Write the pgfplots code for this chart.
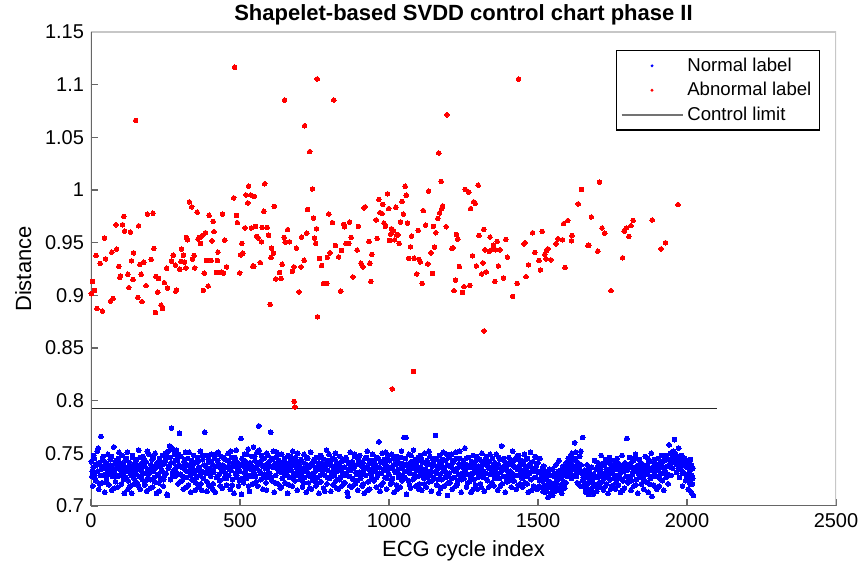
\documentclass[border=0pt]{standalone}
\usepackage{pgfplots}
\pgfplotsset{compat=1.18}
\usepackage{fontspec}
\setmainfont{Liberation Sans}
\usetikzlibrary{calc}
\begin{document}
\begin{tikzpicture}
\begin{axis}[
 width=372.5pt, height=237pt, scale only axis,
 xmin=0, xmax=2500, ymin=0.7, ymax=1.15,
 xtick={0,500,1000,1500,2000,2500}, xticklabels={0,500,1000,1500,2000,2500},
 ytick={0.7,0.75,0.8,0.85,0.9,0.95,1,1.05,1.1,1.15},
 yticklabels={0.7,0.75,0.8,0.85,0.9,0.95,1,1.05,1.1,1.15},
 tick align=inside, xtick pos=bottom, ytick pos=left,
 major tick length=3.5pt,
 tick style={black!60, line width=0.6pt},
 axis line style={draw=none},
 ticklabel style={font=\fontsize{10}{12}\selectfont},
 /pgf/number format/assume math mode=true,
 xlabel={ECG cycle index}, ylabel={Distance},
 label style={font=\fontsize{11}{13}\selectfont},
 title={Shapelet-based SVDD control chart phase II},
 title style={font=\bfseries\fontsize{11}{13}\selectfont, yshift=-6pt},
 legend cell align=left,
 legend style={at={(1,1)}, anchor=north east, xshift=-8pt, yshift=-9pt,
   draw=black, line width=0.6pt, inner xsep=2pt, inner ysep=1.5pt,
   font=\fontsize{9.3}{11}\selectfont, row sep=0pt,
   /tikz/every even column/.append style={column sep=2pt}},
]
\coordinate (BL) at (rel axis cs:0,0);
\coordinate (TR) at (rel axis cs:1,1);
\addplot[only marks, mark=*, mark size=1.2pt, color=blue, mark options={line width=0pt},
 legend image code/.code={\path[draw=none,fill=none] (0pt,0pt) -- (30.5pt,0pt); \fill[blue,draw=none] (15.25pt,0pt) circle (0.8pt);}]
coordinates {
(1,0.742) (3,0.728) (6,0.719) (8,0.737) (11,0.745) (13,0.731) (16,0.724) (18,0.739) (21,0.752) (23,0.733) (26,0.716) (28,0.741) (31,0.729) (33,0.766) (36,0.735) (38,0.722) (41,0.747) (43,0.738) (46,0.713) (48,0.730)
(50,0.741) (52,0.726) (55,0.735) (57,0.749) (60,0.720) (62,0.732) (65,0.744) (67,0.737) (70,0.715) (72,0.728) (75,0.739) (77,0.756) (80,0.731) (82,0.723) (85,0.742) (87,0.736) (90,0.718) (92,0.745) (95,0.729) (97,0.740)
(100,0.734) (102,0.721) (105,0.748) (107,0.730) (110,0.738) (112,0.712) (115,0.743) (117,0.727) (120,0.736) (122,0.751) (125,0.724) (127,0.733) (130,0.741) (132,0.719) (135,0.729) (137,0.712) (140,0.746) (142,0.735) (145,0.726) (147,0.739)
(150,0.731) (152,0.744) (155,0.722) (157,0.737) (160,0.753) (162,0.728) (165,0.716) (167,0.740) (170,0.733) (172,0.725) (175,0.747) (177,0.738) (180,0.720) (182,0.731) (185,0.742) (187,0.714) (190,0.735) (192,0.727) (195,0.749) (197,0.732)
(200,0.725) (202,0.739) (205,0.744) (207,0.718) (210,0.733) (212,0.727) (215,0.750) (217,0.736) (220,0.712) (222,0.741) (225,0.730) (227,0.722) (230,0.745) (232,0.737) (235,0.726) (237,0.734) (240,0.748) (242,0.719) (245,0.740) (247,0.729)
(250,0.743) (252,0.731) (255,0.711) (257,0.710) (260,0.752) (262,0.738) (265,0.746) (267,0.725) (270,0.774) (272,0.755) (275,0.733) (277,0.741) (280,0.749) (282,0.728) (285,0.736) (287,0.753) (290,0.744) (292,0.721) (295,0.739) (297,0.769)
(300,0.730) (302,0.747) (305,0.724) (307,0.738) (310,0.716) (312,0.742) (315,0.735) (317,0.751) (320,0.727) (322,0.733) (325,0.745) (327,0.720) (330,0.739) (332,0.729) (335,0.713) (337,0.743) (340,0.736) (342,0.725) (345,0.748) (347,0.731)
(350,0.741) (352,0.722) (355,0.734) (357,0.746) (360,0.718) (362,0.737) (365,0.729) (367,0.752) (370,0.733) (372,0.715) (375,0.744) (377,0.726) (380,0.739) (382,0.770) (385,0.731) (387,0.748) (390,0.723) (392,0.736) (395,0.742) (397,0.719)
(400,0.735) (402,0.728) (405,0.749) (407,0.740) (410,0.721) (412,0.732) (415,0.745) (417,0.713) (420,0.738) (422,0.727) (425,0.743) (427,0.751) (430,0.730) (432,0.724) (435,0.736) (437,0.747) (440,0.717) (442,0.739) (445,0.733) (447,0.726)
(450,0.744) (452,0.731) (455,0.720) (457,0.737) (460,0.750) (462,0.729) (465,0.741) (467,0.716) (470,0.734) (472,0.746) (475,0.725) (477,0.738) (480,0.712) (482,0.742) (485,0.731) (487,0.753) (490,0.727) (492,0.736) (495,0.719) (497,0.740)
(500,0.733) (503,0.764) (505,0.711) (507,0.745) (510,0.738) (512,0.722) (515,0.749) (517,0.731) (520,0.742) (522,0.726) (525,0.737) (527,0.754) (530,0.729) (532,0.714) (535,0.740) (537,0.735) (540,0.747) (542,0.721) (545,0.756) (547,0.732)
(550,0.743) (552,0.728) (555,0.736) (557,0.751) (560,0.719) (563,0.776) (565,0.741) (567,0.733) (570,0.725) (572,0.748) (575,0.738) (577,0.716) (580,0.745) (582,0.730) (585,0.739) (587,0.722) (590,0.750) (592,0.735) (595,0.727) (597,0.742)
(600,0.731) (603,0.770) (605,0.744) (607,0.724) (610,0.737) (612,0.752) (615,0.713) (617,0.740) (620,0.729) (622,0.746) (625,0.735) (627,0.721) (630,0.743) (632,0.738) (635,0.717) (637,0.732) (640,0.749) (642,0.726) (645,0.741) (647,0.734)
(650,0.745) (652,0.722) (655,0.737) (657,0.730) (660,0.712) (662,0.748) (665,0.739) (667,0.727) (670,0.743) (672,0.734) (675,0.719) (677,0.752) (680,0.731) (682,0.740) (685,0.724) (687,0.746) (690,0.736) (692,0.715) (695,0.742) (697,0.729)
(700,0.738) (702,0.725) (705,0.744) (707,0.731) (710,0.718) (712,0.736) (715,0.749) (717,0.727) (720,0.740) (722,0.713) (725,0.733) (727,0.745) (730,0.722) (732,0.737) (735,0.728) (737,0.751) (740,0.716) (742,0.739) (745,0.731) (747,0.724)
(750,0.742) (752,0.733) (755,0.719) (757,0.746) (760,0.727) (762,0.738) (765,0.712) (767,0.735) (770,0.748) (772,0.723) (775,0.740) (777,0.731) (780,0.717) (782,0.744) (785,0.729) (787,0.736) (790,0.753) (792,0.721) (795,0.734) (797,0.743)
(800,0.726) (802,0.739) (805,0.714) (807,0.732) (810,0.745) (812,0.720) (815,0.737) (817,0.729) (820,0.750) (822,0.724) (825,0.741) (827,0.733) (830,0.716) (832,0.738) (835,0.747) (837,0.727) (840,0.735) (842,0.719) (845,0.743) (847,0.730)
(850,0.737) (852,0.722) (855,0.746) (857,0.731) (860,0.713) (862,0.709) (865,0.740) (867,0.728) (870,0.751) (872,0.734) (875,0.718) (877,0.742) (880,0.725) (882,0.736) (885,0.747) (887,0.721) (890,0.739) (892,0.730) (895,0.715) (897,0.744)
(900,0.732) (902,0.748) (905,0.726) (907,0.738) (910,0.719) (912,0.741) (915,0.734) (917,0.712) (920,0.745) (922,0.729) (925,0.737) (927,0.752) (930,0.723) (932,0.735) (935,0.716) (937,0.743) (940,0.731) (942,0.727) (945,0.749) (947,0.736)
(950,0.724) (952,0.740) (955,0.733) (957,0.718) (960,0.746) (962,0.729) (966,0.761) (967,0.737) (970,0.714) (972,0.742) (975,0.731) (977,0.750) (980,0.722) (982,0.735) (985,0.744) (987,0.727) (990,0.739) (992,0.716) (995,0.733) (997,0.748)
(1000,0.730) (1002,0.743) (1005,0.721) (1007,0.737) (1010,0.749) (1012,0.726) (1015,0.739) (1017,0.713) (1020,0.744) (1022,0.732) (1025,0.720) (1027,0.747) (1030,0.735) (1032,0.727) (1035,0.741) (1037,0.718) (1040,0.736) (1042,0.752) (1045,0.729) (1047,0.740)
(1050,0.765) (1052,0.733) (1055,0.745) (1057,0.765) (1059,0.711) (1062,0.738) (1065,0.724) (1067,0.749) (1070,0.731) (1072,0.717) (1075,0.742) (1077,0.736) (1080,0.725) (1082,0.753) (1085,0.730) (1087,0.744) (1090,0.719) (1092,0.739) (1095,0.728) (1097,0.746)
(1100,0.734) (1102,0.721) (1105,0.748) (1107,0.737) (1110,0.715) (1112,0.741) (1115,0.730) (1117,0.726) (1120,0.750) (1122,0.735) (1125,0.718) (1127,0.743) (1130,0.732) (1132,0.740) (1135,0.723) (1137,0.747) (1140,0.729) (1142,0.714) (1145,0.738) (1147,0.745)
(1150,0.727) (1152,0.739) (1156,0.767) (1157,0.733) (1160,0.720) (1162,0.744) (1165,0.736) (1167,0.712) (1170,0.748) (1172,0.730) (1175,0.741) (1177,0.725) (1180,0.737) (1182,0.751) (1185,0.719) (1187,0.734) (1190,0.743) (1192,0.728) (1196,0.710) (1197,0.739)
(1200,0.746) (1202,0.731) (1205,0.722) (1207,0.738) (1210,0.749) (1212,0.716) (1215,0.735) (1217,0.742) (1220,0.727) (1222,0.733) (1225,0.719) (1227,0.745) (1230,0.736) (1232,0.724) (1235,0.740) (1237,0.752) (1240,0.729) (1242,0.713) (1245,0.737) (1247,0.731)
(1250,0.741) (1252,0.726) (1255,0.755) (1257,0.734) (1260,0.718) (1262,0.739) (1265,0.730) (1267,0.746) (1270,0.723) (1272,0.737) (1275,0.713) (1277,0.742) (1280,0.731) (1282,0.748) (1285,0.725) (1287,0.735) (1290,0.720) (1292,0.743) (1295,0.732) (1297,0.716)
(1300,0.738) (1302,0.729) (1305,0.744) (1307,0.721) (1310,0.736) (1312,0.750) (1315,0.727) (1317,0.733) (1320,0.714) (1322,0.740) (1325,0.731) (1327,0.747) (1330,0.724) (1332,0.738) (1335,0.718) (1337,0.742) (1340,0.730) (1342,0.735) (1345,0.722) (1347,0.745)
(1350,0.733) (1352,0.719) (1355,0.741) (1357,0.728) (1360,0.749) (1362,0.736) (1365,0.715) (1367,0.739) (1370,0.726) (1372,0.744) (1375,0.732) (1378,0.757) (1380,0.721) (1382,0.737) (1385,0.745) (1387,0.728) (1390,0.713) (1392,0.740) (1395,0.734) (1397,0.723)
(1400,0.739) (1402,0.746) (1405,0.727) (1407,0.733) (1410,0.718) (1412,0.741) (1415,0.752) (1417,0.730) (1420,0.724) (1422,0.737) (1425,0.744) (1427,0.716) (1430,0.735) (1432,0.729) (1435,0.748) (1437,0.738) (1440,0.721) (1442,0.743) (1445,0.731) (1447,0.726)
(1450,0.740) (1452,0.734) (1455,0.749) (1457,0.722) (1460,0.737) (1462,0.728) (1465,0.745) (1467,0.713) (1470,0.739) (1472,0.731) (1475,0.751) (1477,0.725) (1480,0.736) (1482,0.742) (1485,0.719) (1487,0.733) (1490,0.747) (1492,0.727) (1495,0.738) (1497,0.716)
(1500,0.741) (1502,0.732) (1505,0.724) (1507,0.745) (1510,0.718) (1512,0.729) (1515,0.736) (1517,0.714) (1520,0.727) (1522,0.720) (1525,0.733) (1527,0.716) (1530,0.725) (1533,0.708) (1535,0.731) (1537,0.719) (1540,0.723) (1542,0.712) (1545,0.729) (1547,0.717)
(1550,0.735) (1552,0.721) (1555,0.728) (1557,0.714) (1560,0.739) (1562,0.725) (1565,0.731) (1567,0.716) (1570,0.743) (1572,0.726) (1575,0.720) (1577,0.734) (1580,0.712) (1582,0.729) (1585,0.738) (1587,0.723) (1590,0.717) (1592,0.732) (1595,0.741) (1597,0.728)
(1600,0.737) (1602,0.745) (1605,0.731) (1607,0.740) (1610,0.748) (1612,0.726) (1615,0.735) (1617,0.743) (1620,0.729) (1623,0.760) (1625,0.738) (1627,0.751) (1630,0.733) (1632,0.722) (1635,0.741) (1637,0.736) (1640,0.747) (1642,0.719) (1645,0.739) (1647,0.731)
(1650,0.765) (1652,0.727) (1655,0.718) (1657,0.734) (1660,0.713) (1662,0.729) (1665,0.739) (1667,0.721) (1670,0.711) (1672,0.732) (1675,0.724) (1677,0.716) (1680,0.737) (1682,0.726) (1685,0.711) (1687,0.730) (1690,0.743) (1692,0.720) (1695,0.735) (1697,0.714)
(1700,0.727) (1702,0.741) (1705,0.733) (1707,0.718) (1710,0.736) (1712,0.748) (1715,0.723) (1717,0.731) (1720,0.715) (1722,0.739) (1725,0.728) (1727,0.744) (1730,0.721) (1732,0.734) (1735,0.712) (1737,0.730) (1740,0.746) (1742,0.725) (1745,0.737) (1747,0.719)
(1750,0.732) (1752,0.743) (1755,0.726) (1757,0.738) (1760,0.716) (1762,0.729) (1765,0.745) (1767,0.735) (1770,0.720) (1772,0.740) (1775,0.731) (1777,0.713) (1780,0.736) (1782,0.748) (1785,0.724) (1787,0.733) (1790,0.717) (1792,0.741) (1795,0.728) (1798,0.764)
(1800,0.734) (1802,0.722) (1805,0.739) (1807,0.746) (1810,0.727) (1812,0.715) (1815,0.737) (1817,0.730) (1820,0.743) (1822,0.719) (1825,0.733) (1827,0.749) (1830,0.725) (1832,0.738) (1835,0.712) (1837,0.731) (1840,0.744) (1842,0.728) (1845,0.736) (1847,0.721)
(1850,0.740) (1852,0.729) (1855,0.716) (1857,0.735) (1860,0.747) (1862,0.723) (1865,0.738) (1867,0.731) (1870,0.713) (1872,0.742) (1875,0.734) (1877,0.726) (1880,0.750) (1882,0.709) (1885,0.737) (1887,0.720) (1890,0.744) (1892,0.732) (1895,0.718) (1897,0.739)
(1900,0.728) (1902,0.745) (1905,0.735) (1907,0.719) (1910,0.741) (1912,0.731) (1915,0.748) (1917,0.724) (1920,0.737) (1922,0.715) (1925,0.743) (1927,0.733) (1930,0.727) (1932,0.746) (1935,0.738) (1937,0.721) (1940,0.758) (1942,0.740) (1945,0.750) (1947,0.729)
(1950,0.746) (1952,0.736) (1955,0.752) (1958,0.763) (1960,0.741) (1962,0.749) (1965,0.732) (1967,0.744) (1970,0.738) (1972,0.755) (1975,0.727) (1977,0.743) (1980,0.735) (1982,0.748) (1985,0.719) (1987,0.739) (1990,0.731) (1992,0.745) (1995,0.724) (1997,0.737)
(2000,0.742) (2002,0.730) (2004,0.716) (2006,0.738) (2008,0.725) (2010,0.734) (2012,0.744) (2014,0.713) (2016,0.729) (2018,0.721) (2020,0.736) (2021,0.710)
(4,0.733) (9,0.748) (14,0.726) (19,0.740) (24,0.755) (29,0.721) (34,0.738) (39,0.744) (44,0.729) (49,0.736)
(54,0.722) (59,0.739) (64,0.730) (69,0.747) (74,0.734) (79,0.717) (84,0.743) (89,0.728) (94,0.751) (99,0.736)
(104,0.740) (109,0.725) (114,0.733) (119,0.745) (124,0.716) (129,0.738) (134,0.730) (139,0.748) (144,0.721) (149,0.742)
(154,0.735) (159,0.719) (164,0.746) (169,0.728) (174,0.737) (179,0.743) (184,0.724) (189,0.752) (194,0.731) (199,0.717)
(204,0.736) (209,0.746) (214,0.723) (219,0.739) (224,0.729) (229,0.714) (234,0.742) (239,0.733) (244,0.725) (249,0.750)
(254,0.748) (259,0.736) (264,0.757) (269,0.741) (274,0.729) (279,0.752) (284,0.743) (289,0.731) (294,0.749) (299,0.723)
(304,0.737) (309,0.728) (314,0.744) (319,0.718) (324,0.739) (329,0.751) (334,0.734) (339,0.725) (344,0.740) (349,0.715)
(354,0.727) (359,0.742) (364,0.736) (369,0.721) (374,0.748) (379,0.732) (384,0.738) (389,0.714) (394,0.745) (399,0.730)
(404,0.742) (409,0.716) (414,0.737) (419,0.749) (424,0.728) (429,0.740) (434,0.719) (439,0.733) (444,0.746) (449,0.737)
(454,0.726) (459,0.743) (464,0.735) (469,0.752) (474,0.720) (479,0.738) (484,0.746) (489,0.729) (494,0.741) (499,0.724)
(504,0.739) (509,0.726) (514,0.743) (519,0.734) (524,0.749) (529,0.719) (534,0.741) (539,0.728) (544,0.737) (549,0.747)
(554,0.723) (559,0.740) (564,0.753) (569,0.731) (574,0.744) (579,0.727) (584,0.736) (589,0.715) (594,0.748) (599,0.738)
(604,0.727) (609,0.745) (614,0.739) (619,0.722) (624,0.751) (629,0.733) (634,0.742) (639,0.718) (644,0.736) (649,0.729)
(654,0.741) (659,0.733) (664,0.720) (669,0.747) (674,0.738) (679,0.726) (684,0.744) (689,0.731) (694,0.750) (699,0.735)
(704,0.729) (709,0.742) (714,0.722) (719,0.735) (724,0.746) (729,0.731) (734,0.717) (739,0.740) (744,0.726) (749,0.744)
(754,0.736) (759,0.722) (764,0.741) (769,0.729) (774,0.746) (779,0.735) (784,0.714) (789,0.739) (794,0.727) (799,0.749)
(804,0.741) (809,0.728) (814,0.733) (819,0.744) (824,0.717) (829,0.736) (834,0.725) (839,0.742) (844,0.731) (849,0.722)
(854,0.729) (859,0.743) (864,0.735) (869,0.719) (874,0.738) (879,0.726) (884,0.749) (889,0.732) (894,0.724) (899,0.740)
(904,0.742) (909,0.730) (914,0.721) (919,0.737) (924,0.746) (929,0.715) (934,0.740) (939,0.733) (944,0.725) (949,0.743)
(954,0.738) (959,0.727) (964,0.745) (969,0.731) (974,0.720) (979,0.741) (984,0.734) (989,0.751) (994,0.726) (999,0.737)
(1004,0.736) (1009,0.722) (1014,0.745) (1019,0.733) (1024,0.740) (1029,0.716) (1034,0.730) (1039,0.746) (1044,0.724) (1049,0.738)
(1054,0.727) (1059,0.740) (1064,0.733) (1069,0.720) (1074,0.748) (1079,0.738) (1084,0.726) (1089,0.735) (1094,0.743) (1099,0.716)
(1104,0.729) (1109,0.744) (1114,0.735) (1119,0.721) (1124,0.740) (1129,0.727) (1134,0.752) (1139,0.733) (1144,0.724) (1149,0.741)
(1154,0.745) (1159,0.731) (1164,0.725) (1169,0.739) (1174,0.717) (1179,0.744) (1184,0.733) (1189,0.727) (1194,0.749) (1199,0.722)
(1204,0.738) (1209,0.726) (1214,0.743) (1219,0.734) (1224,0.751) (1229,0.721) (1234,0.730) (1239,0.745) (1244,0.725) (1249,0.736)
(1254,0.731) (1259,0.745) (1264,0.722) (1269,0.737) (1274,0.728) (1279,0.742) (1284,0.716) (1289,0.739) (1294,0.747) (1299,0.727)
(1304,0.733) (1309,0.718) (1314,0.741) (1319,0.730) (1324,0.744) (1329,0.725) (1334,0.736) (1339,0.749) (1344,0.721) (1349,0.738)
(1354,0.726) (1359,0.738) (1364,0.731) (1369,0.746) (1374,0.719) (1379,0.735) (1384,0.728) (1389,0.742) (1394,0.724) (1399,0.733)
(1404,0.731) (1409,0.743) (1414,0.724) (1419,0.738) (1424,0.729) (1429,0.747) (1434,0.720) (1439,0.734) (1444,0.741) (1449,0.718)
(1454,0.729) (1459,0.744) (1464,0.721) (1469,0.732) (1474,0.740) (1479,0.715) (1484,0.735) (1489,0.727) (1494,0.746) (1499,0.733)
(1504,0.719) (1509,0.733) (1514,0.724) (1519,0.738) (1524,0.713) (1529,0.729) (1534,0.720) (1539,0.735) (1544,0.722) (1549,0.710)
(1554,0.730) (1559,0.719) (1564,0.724) (1569,0.733) (1574,0.715) (1579,0.726) (1584,0.720) (1589,0.736) (1594,0.722) (1599,0.731)
(1604,0.742) (1609,0.733) (1614,0.750) (1619,0.738) (1624,0.745) (1629,0.728) (1634,0.741) (1639,0.734) (1644,0.752) (1649,0.724)
(1654,0.731) (1659,0.722) (1664,0.716) (1669,0.727) (1674,0.735) (1679,0.713) (1684,0.722) (1689,0.719) (1694,0.728) (1699,0.737)
(1704,0.722) (1709,0.729) (1714,0.740) (1719,0.726) (1724,0.718) (1729,0.735) (1734,0.727) (1739,0.741) (1744,0.716) (1749,0.731)
(1754,0.720) (1759,0.735) (1764,0.724) (1769,0.741) (1774,0.727) (1779,0.732) (1784,0.715) (1789,0.739) (1794,0.736) (1799,0.723)
(1804,0.728) (1809,0.740) (1814,0.724) (1819,0.733) (1824,0.745) (1829,0.720) (1834,0.736) (1839,0.727) (1844,0.741) (1849,0.732)
(1854,0.725) (1859,0.738) (1864,0.730) (1869,0.745) (1874,0.721) (1879,0.735) (1884,0.728) (1889,0.741) (1894,0.733) (1899,0.716)
(1904,0.738) (1909,0.726) (1914,0.742) (1919,0.731) (1924,0.736) (1929,0.748) (1934,0.730) (1939,0.744) (1944,0.737) (1949,0.742)
(1954,0.744) (1959,0.750) (1964,0.740) (1969,0.747) (1974,0.736) (1979,0.742) (1984,0.731) (1989,0.745) (1994,0.738) (1999,0.728)
(2003,0.737) (2007,0.728) (2011,0.721) (2015,0.739) (2019,0.726)
};
\addlegendentry{Normal label}
\addplot[only marks, mark=*, mark size=1.15pt, color=red, mark options={line width=0pt},
 legend image code/.code={\path[draw=none,fill=none] (0pt,0pt) -- (30.5pt,0pt); \fill[red,draw=none] (15.25pt,0pt) circle (0.8pt);}]
coordinates {
(482,1.1165) (150,1.066) (529,1.0036) (520,0.9953) (536,0.9953) (526,0.9877) (479,0.9925) (330,0.9887) (338,0.984) (356,0.979) (189,0.977) (208,0.978) (110,0.975) (84,0.967) (106,0.967) (160,0.966) (113,0.961) (132,0.96) (396,0.976) (441,0.977) (410,0.97) (488,0.9757) (491,0.969) (517,0.964) (538,0.964) (413,0.9604) (384,0.9594) (373,0.9566) (364,0.955) (359,0.9534) (320,0.955) (324,0.9527) (406,0.9517) (449,0.9524) (368,0.9492) (506,0.9492) (45,0.9543) (17,0.9378) (49,0.9346) (31,0.9301) (70,0.941) (86,0.9438) (143,0.9403) (136,0.9327) (211,0.9444) (202,0.934) (177,0.9314) (164,0.9292) (93,0.9273) (168,0.92) (124,0.92) (99,0.9184) (97,0.9172) (141,0.915) (127,0.9073) (185,0.9092) (218,0.918) (227,0.916) (246,0.912) (257,0.907) (224,0.903) (254,0.9257) (270,0.9324) (276,0.938) (304,0.944) (310,0.938) (283,0.9286) (302,0.932) (314,0.9316) (298,0.9248) (318,0.926) (340,0.9343) (346,0.9378) (348,0.926) (388,0.933) (403,0.933) (426,0.941) (424,0.933) (380,0.921) (421,0.9216) (437,0.9219) (445,0.921) (455,0.927) (499,0.9212) (502,0.9384) (510,0.94) (543,0.9276) (287,0.905) (285,0.904) (377,0.9047) (393,0.9088) (5,0.913) (12,0.9047) (1,0.9015) (20,0.8875) (38,0.885) (66,0.8945) (74,0.897) (157,0.898) (171,0.894) (216,0.8837) (235,0.8907) (240,0.8875)
(759,1.1054) (650,1.0854) (815,1.0854) (717,1.061) (734,1.0364) (743,1.001) (583,1.0059) (548,0.994) (580,0.9798) (615,0.9845) (727,0.9814) (747,0.9734) (798,0.9772) (810,0.969) (552,0.9655) (574,0.9645) (591,0.9645) (556,0.956) (561,0.9546) (572,0.9508) (596,0.957) (660,0.9623) (648,0.955) (652,0.9505) (666,0.9508) (707,0.9553) (724,0.959) (757,0.9632) (750,0.9543) (754,0.9492) (606,0.9448) (612,0.94) (604,0.9359) (546,0.9276) (568,0.931) (641,0.9295) (633,0.9216) (620,0.9156) (638,0.9159) (681,0.927) (705,0.927) (676,0.9228) (689,0.9448) (715,0.9333) (767,0.9349) (774,0.9282) (793,0.9359) (802,0.9403) (820,0.9473) (831,0.9365) (841,0.9426) (780,0.9111) (791,0.9114) (698,0.9032) (601,0.8914) (760,0.8796) (838,0.904) (848,0.9674) (851,0.965) (868,0.9696) (897,0.9655) (856,0.9492) (865,0.9492) (873,0.955) (893,0.943) (879,0.9174) (906,0.9305) (913,0.927) (916,0.983) (920,0.984) (933,0.9512) (942,0.9387) (936,0.9305) (939,0.913) (957,0.9716) (960,0.954) (966,0.9909) (979,0.9864) (995,0.9963) (970,0.9785) (977,0.9775) (983,0.9686) (988,0.9655) (999,0.9823) (1023,0.9836) (1044,0.989) (1054,1.0036) (1058,0.995) (1048,0.9772) (1039,0.9696) (1062,0.9686) (1008,0.9632) (1015,0.9613) (1006,0.9581) (1026,0.9575) (1030,0.9575) (1002,0.952) (1019,0.9527) (1034,0.9492) (1076,0.9562) (1072,0.946) (1066,0.935) (682,0.7991) (684,0.794) (1011,0.8112) (1082,0.8277)
(1435,1.1054) (1194,1.0714) (1167,1.0351) (1175,1.008) (1133,0.9989) (1256,1.0005) (1268,0.998) (1299,1.0046) (1284,0.9887) (1289,0.9874) (1274,0.9823) (1115,0.9804) (1180,0.9849) (1177,0.9823) (1170,0.9782) (1164,0.9731) (1123,0.9667) (1149,0.9655) (1192,0.9651) (1098,0.9616) (1157,0.9594) (1084,0.9353) (1101,0.934) (1105,0.9317) (1153,0.9457) (1141,0.9403) (1130,0.9298) (1093,0.9203) (1146,0.9206) (1111,0.9114) (1226,0.9578) (1231,0.9534) (1211,0.9445) (1215,0.9451) (1236,0.9273) (1223,0.9143) (1218,0.9044) (1247,0.9028) (1252,0.9082) (1271,0.9095) (1280,0.9375) (1293,0.9279) (1302,0.9569) (1318,0.9626) (1315,0.9308) (1311,0.9203) (1326,0.9222) (1322,0.9432) (1339,0.9553) (1336,0.9416) (1344,0.9432) (1351,0.9476) (1363,0.9511) (1358,0.9432) (1372,0.9432) (1367,0.9279) (1355,0.913) (1384,0.9165) (1392,0.953) (1397,0.9362) (1319,0.8662) (1415,0.899) (1430,0.9114) (1460,0.9177) (1453,0.9489) (1457,0.9499) (1468,0.9289) (1482,0.9594) (1489,0.9406) (1503,0.933) (1508,0.9241) (1514,0.9607) (1523,0.939) (1529,0.9426) (1533,0.9441) (1527,0.9346) (1543,0.9337) (1560,0.9489) (1567,0.9537) (1582,0.9527) (1586,0.968) (1600,0.9709) (1591,0.9263) (1614,0.9569) (1612,0.9518)
(1706,1.0074) (1646,1.0004) (1635,0.9868) (1970,0.9861) (1679,0.9744) (1668,0.9473) (1671,0.9476) (1701,0.942) (1715,0.9639) (1724,0.9591) (1789,0.961) (1796,0.9639) (1812,0.9661) (1819,0.9712) (1805,0.9559) (1883,0.9715) (1784,0.9356) (1745,0.9044) (1913,0.9441) (1928,0.9499)
};
\addlegendentry{Abnormal label}
\addplot[black!85, line width=0.7pt, legend image code/.code={\draw[black!55, line width=0.8pt] (0pt,0pt) -- (30.5pt,0pt);}]
coordinates {(0,0.7925) (2100,0.7925)};
\addlegendentry{Control limit}
\draw[black!22, line width=0.6pt] (rel axis cs:0,1) -- (rel axis cs:1,1) -- (rel axis cs:1,0);
\draw[black!60, line width=0.6pt] (rel axis cs:0,1) -- (rel axis cs:0,0) -- (rel axis cs:1,0);
\end{axis}
\pgfresetboundingbox
\path ($(BL)+(-45.5pt,-34pt)$) rectangle ($(TR)+(13.5pt,16pt)$);
\end{tikzpicture}
\end{document}
